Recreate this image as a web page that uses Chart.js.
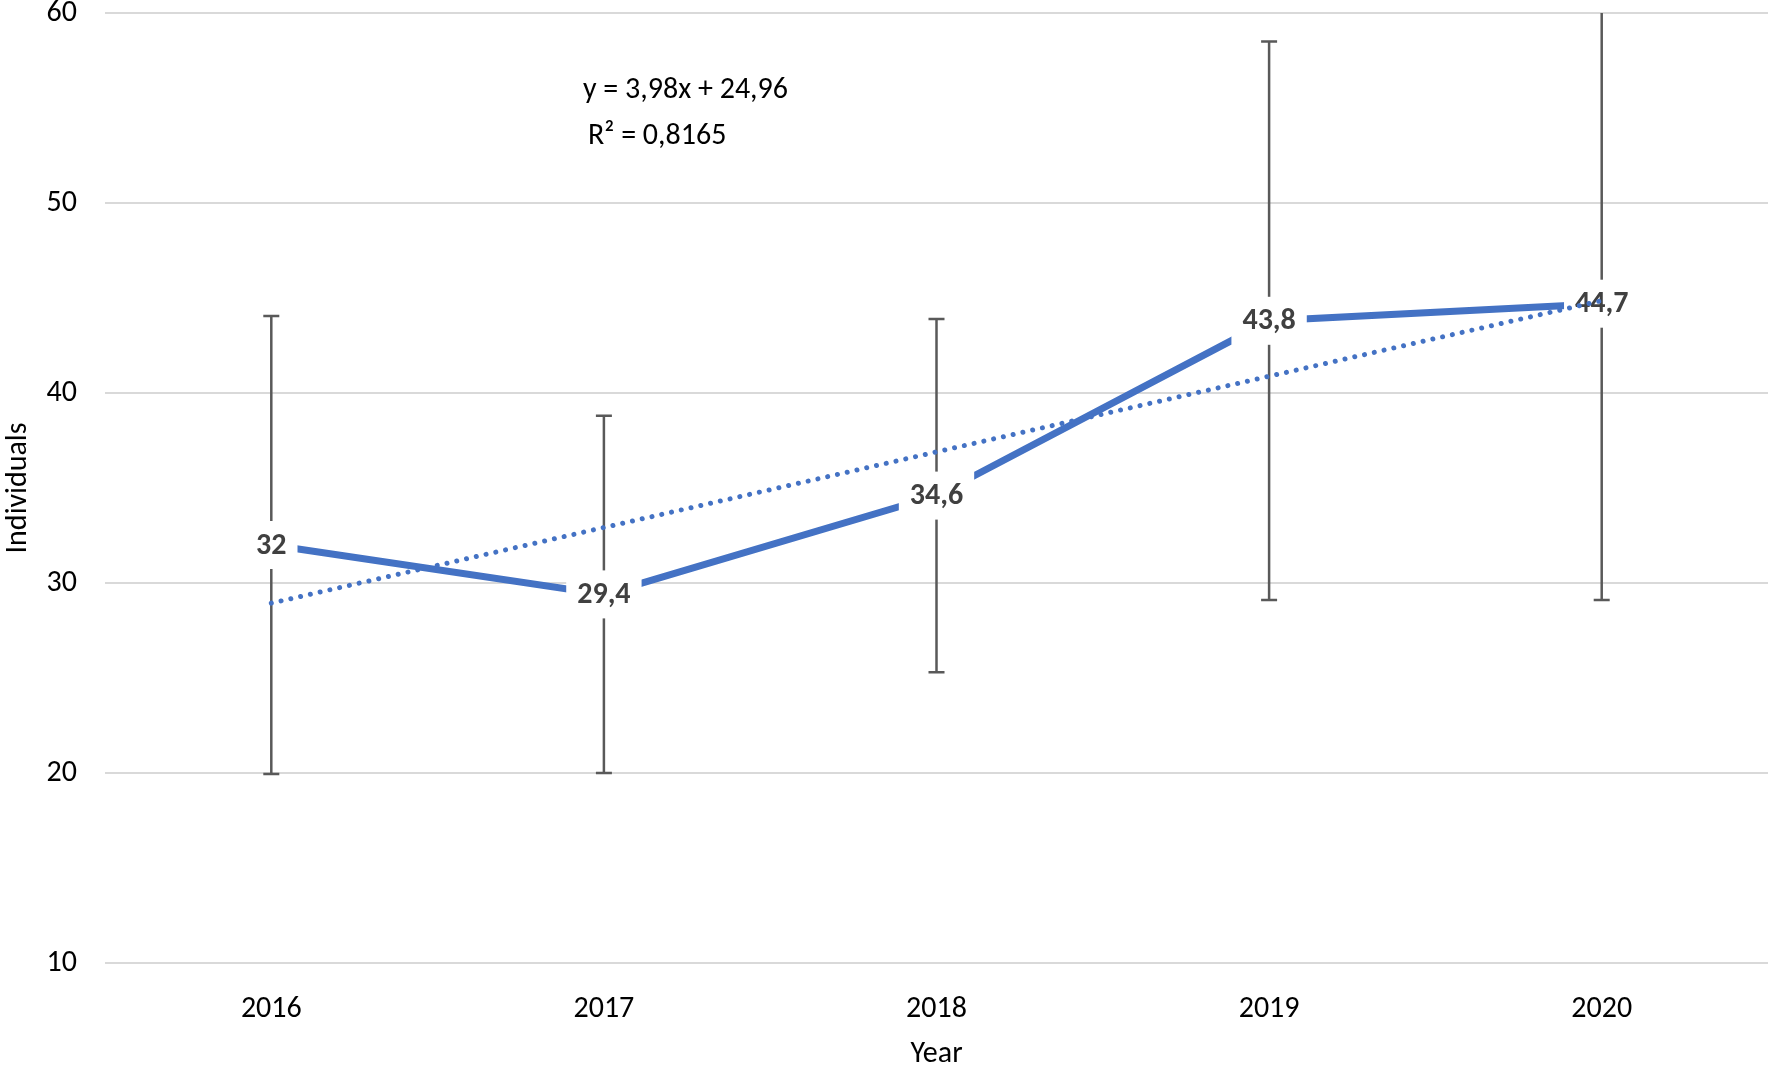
<!DOCTYPE html>
<html>
<head>
<meta charset="utf-8">
<script src="https://cdn.jsdelivr.net/npm/chart.js@4.4.1/dist/chart.umd.min.js"></script>
<style>
    body { margin: 0; background: #fff; }
    #wrap { width: 1772px; height: 1067px; }
</style>
</head>
<body>
<div id="wrap"><canvas id="chart-individuals" width="1772" height="1067"></canvas></div>
<script>
// values
const years = ['2016', '2017', '2018', '2019', '2020'];
const individuals = [32, 29.4, 34.6, 43.8, 44.7];
const errorSize = [12.05, 9.4, 9.3, 14.7, 15.6];
const trendValues = [28.94, 32.92, 36.9, 40.88, 44.86];
const yTicks = [10, 20, 30, 40, 50, 60];
const trendEquation = 'y = 3,98x + 24,96';
const trendR2 = 'R² = 0,8165';

const FONT = 'Carlito, "Open Sans", sans-serif';
const BLUE = '#4472C4';

const fmt = v => String(v).replace('.', ',');

// error bars, data labels and trendline text
const extras = {
    id: 'extras',
    beforeDatasetsDraw(chart) {
        const { ctx, chartArea: a, scales: { x, y } } = chart;
        ctx.save();
        ctx.beginPath();
        ctx.rect(a.left, a.top, a.right - a.left, a.bottom - a.top);
        ctx.clip();
        ctx.strokeStyle = '#595959';
        ctx.lineWidth = 2.5;
        individuals.forEach((v, i) => {
            const px = x.getPixelForValue(i);
            const top = y.getPixelForValue(v + errorSize[i]);
            const bot = y.getPixelForValue(v - errorSize[i]);
            ctx.beginPath();
            ctx.moveTo(px, top); ctx.lineTo(px, bot);
            ctx.moveTo(px - 8, top); ctx.lineTo(px + 8, top);
            ctx.moveTo(px - 8, bot); ctx.lineTo(px + 8, bot);
            ctx.stroke();
        });
        ctx.restore();
    },
    afterDatasetDraw(chart, args) {
        if (args.index !== 0) return;
        const { ctx, scales: { x, y } } = chart;
        ctx.save();
        ctx.font = `bold 30px ${FONT}`;
        ctx.textAlign = 'center';
        ctx.textBaseline = 'middle';
        individuals.forEach((v, i) => {
            const px = x.getPixelForValue(i);
            const py = y.getPixelForValue(v);
            const t = fmt(v);
            const w = ctx.measureText(t).width + 22;
            ctx.fillStyle = '#fff';
            ctx.fillRect(px - w / 2, py - 24, w, 48);
            ctx.fillStyle = '#404040';
            ctx.fillText(t, px, py + 1);
        });
        ctx.restore();
    },
    afterDraw(chart) {
        const { ctx } = chart;
        ctx.save();
        ctx.font = `30px ${FONT}`;
        ctx.fillStyle = '#000';
        ctx.textAlign = 'left';
        ctx.textBaseline = 'alphabetic';
        ctx.fillText(trendEquation, 583, 98);
        ctx.fillText(trendR2, 588, 144);
        ctx.restore();
    }
};

new Chart(document.getElementById('chart-individuals'), {
    type: 'line',
    data: {
        labels: years,
        datasets: [
            {
                label: 'Individuals',
                data: individuals,
                borderColor: BLUE,
                borderWidth: 7,
                pointRadius: 0,
                tension: 0,
                order: 2
            },
            {
                label: 'Linear trend',
                data: trendValues,
                borderColor: BLUE,
                borderWidth: 5,
                borderDash: [0.01, 10],
                borderCapStyle: 'round',
                pointRadius: 0,
                tension: 0,
                order: 1
            }
        ]
    },
    options: {
        responsive: false,
        animation: false,
        devicePixelRatio: 1,
        layout: { padding: { top: 13, right: 4, left: 0, bottom: 0 } },
        plugins: { legend: { display: false }, tooltip: { enabled: false } },
        scales: {
            x: {
                offset: true,
                grid: { display: false },
                border: { display: false },
                ticks: { color: '#000', font: { family: FONT, size: 30 }, padding: 20 },
                title: { display: true, text: 'Year', color: '#000', font: { family: FONT, size: 30 }, padding: { top: 0, bottom: -5 } },
                afterFit: s => { s.height = 104; }
            },
            y: {
                min: yTicks[0],
                max: yTicks[yTicks.length - 1],
                afterBuildTicks: s => { s.ticks = yTicks.map(v => ({ value: v })); },
                grid: { color: '#d9d9d9', lineWidth: 2, drawTicks: false },
                border: { display: false },
                ticks: { color: '#000', font: { family: FONT, size: 30 }, padding: 28 },
                title: { display: true, text: 'Individuals', color: '#000', font: { family: FONT, size: 30 }, padding: { top: 0, bottom: 0 } },
                afterFit: s => { s.width = 105; s.paddingTop = 0; s.paddingBottom = 0; }
            }
        }
    },
    plugins: [extras]
});
</script>
</body>
</html>
